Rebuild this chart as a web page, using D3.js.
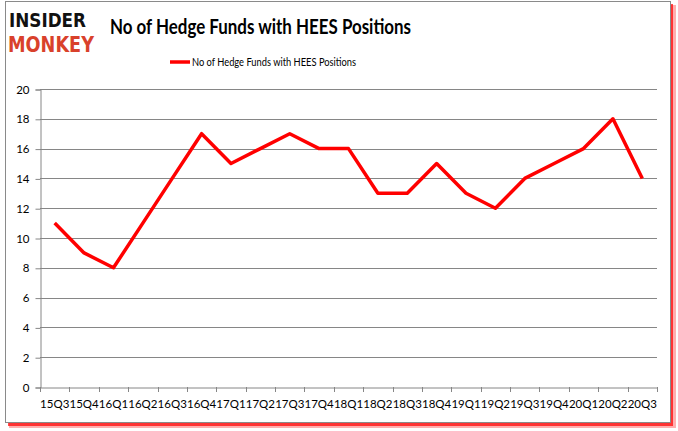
<!DOCTYPE html>
<html><head><meta charset="utf-8">
<script src="https://cdn.jsdelivr.net/npm/d3@7"></script>
<style>body{margin:0;background:#fff}svg{display:block}</style>
</head><body><svg id="c" width="678" height="431"></svg>
<script>
const quarters = ["15Q3","15Q4","16Q1","16Q2","16Q3","16Q4","17Q1","17Q2","17Q3","17Q4","18Q1","18Q2","18Q3","18Q4","19Q1","19Q2","19Q3","19Q4","20Q1","20Q2","20Q3"];
const funds = [11,9,8,11,14,17,15,16,17,16,16,13,13,15,13,12,14,15,16,18,14];
const yTicks = [0,2,4,6,8,10,12,14,16,18,20];
const title = "No of Hedge Funds with HEES Positions";
const seriesName = "No of Hedge Funds with HEES Positions";

const svg = d3.select("#c");
const font = "Lato, 'Open Sans', sans-serif";

// frame with red shadow
svg.append("rect").attr("x",9).attr("y",5).attr("width",667).attr("height",423).attr("fill","#ff6060").attr("opacity",0.5);
svg.append("rect").attr("x",8).attr("y",4).attr("width",665).attr("height",422).attr("fill","#f00").attr("opacity",0.7);
svg.append("rect").attr("x",5.5).attr("y",1.5).attr("width",665).attr("height",421).attr("fill","#fff").attr("stroke","#8a8a8a").attr("stroke-width",1);

const x = d3.scaleBand().domain(quarters).range([40,657]);
const y = d3.scaleLinear().domain([0,20]).range([387,89]);

// gridlines
svg.append("g").selectAll("line").data(yTicks.filter(d=>d>0)).join("line")
  .attr("x1",40).attr("x2",657).attr("y1",d=>Math.round(y(d))+0.5).attr("y2",d=>Math.round(y(d))+0.5)
  .attr("stroke","#868686").attr("stroke-width",1);

// y axis
const ya = svg.append("g").attr("transform","translate(40.5,0.5)")
  .call(d3.axisLeft(y).tickValues(yTicks).tickSize(5).tickPadding(6).tickFormat(d3.format("d")));
ya.select(".domain").attr("stroke","#868686");
ya.selectAll(".tick line").attr("stroke","#868686");
ya.selectAll("text").attr("font-family",font).attr("font-size",11.5).attr("fill","#000");

// x axis
const xa = svg.append("g").attr("transform","translate(0,387.5)")
  .call(d3.axisBottom(x).tickSize(0).tickPadding(12));
xa.select(".domain").attr("stroke","#868686");
xa.selectAll("text").attr("font-family",font).attr("font-size",11.5).attr("fill","#000");
const bounds = quarters.map((q,i)=>x(q)).concat([657]);
svg.append("g").selectAll("line").data(bounds).join("line")
  .attr("x1",d=>Math.round(d)+0.5).attr("x2",d=>Math.round(d)+0.5).attr("y1",387).attr("y2",392)
  .attr("stroke","#868686");

// line
const line = d3.line().x((d,i)=>x(quarters[i])+x.bandwidth()/2).y(d=>y(d));
svg.append("path").datum(funds).attr("d",line).attr("fill","none")
  .attr("stroke","#ff0000").attr("stroke-width",3.5).attr("stroke-linejoin","round");

// title
svg.append("text").attr("x",110).attr("y",34)
  .attr("font-family",font).attr("font-weight","bold").attr("font-size",21)
  .attr("textLength",301).attr("lengthAdjust","spacingAndGlyphs").text(title);

// legend
svg.append("line").attr("x1",170).attr("x2",190).attr("y1",62).attr("y2",62).attr("stroke","#ff0000").attr("stroke-width",3.5);
svg.append("text").attr("x",192).attr("y",66).attr("font-family",font).attr("font-size",11.5)
  .attr("textLength",164).attr("lengthAdjust","spacingAndGlyphs").text(seriesName);

// logo
svg.append("text").attr("x",9).attr("y",27).attr("font-family","'DejaVu Sans', sans-serif").attr("font-weight","bold")
  .attr("font-size",20).attr("textLength",77).attr("lengthAdjust","spacingAndGlyphs").attr("fill","#111").text("INSIDER");
svg.append("text").attr("x",8).attr("y",52).attr("font-family","'DejaVu Sans', sans-serif").attr("font-weight","bold")
  .attr("font-size",21).attr("textLength",86).attr("lengthAdjust","spacingAndGlyphs").attr("fill","#d9412b").text("MONKEY");
</script></body></html>
